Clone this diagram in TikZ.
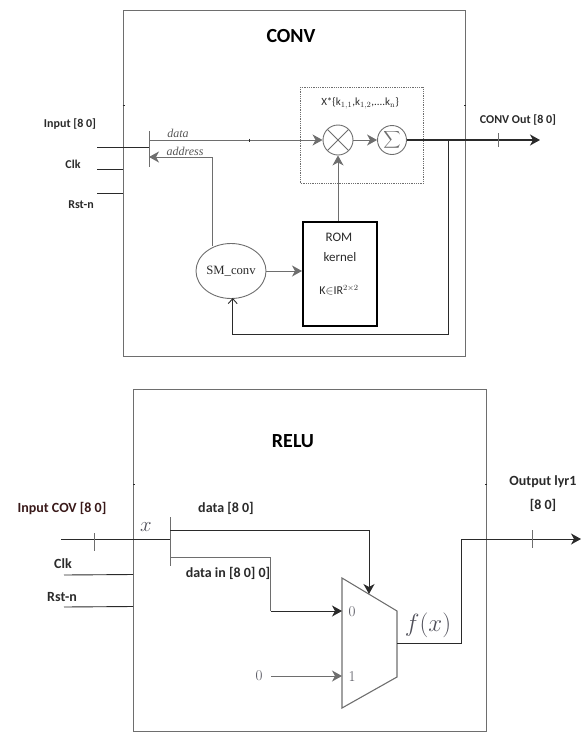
\documentclass[tikz,border=0pt]{standalone}
\usepackage{fontspec}
\usepackage{amsmath}
\usetikzlibrary{arrows.meta,shapes.geometric}
\newfontfamily\carl{Carlito}
\newfontfamily\libser{Liberation Serif}
\definecolor{gl}{HTML}{6E6E6E}
\definecolor{dk}{HTML}{2A2A2A}
\definecolor{mar}{HTML}{3A1A1A}
\definecolor{md}{HTML}{50505A}
\tikzset{
  box/.style={draw=gl,line width=1pt,inner sep=0},
  wire/.style={draw=gl,line width=1pt},
  dwire/.style={draw=dk,line width=.9pt},
  arr/.style={-{Stealth[length=10pt,width=11pt,inset=3pt]}},
  lab/.style={inner sep=0,font=\carl\bfseries\fontsize{12}{14}\selectfont,text=dk},
  labb/.style={inner sep=0,font=\carl\bfseries\fontsize{14}{16}\selectfont,text=dk},
  tit/.style={inner sep=0,font=\carl\bfseries\fontsize{20}{22}\selectfont,text=black},
  it/.style={inner sep=0,font=\libser\itshape\fontsize{12}{14}\selectfont,text=gl!80!black},
  rt/.style={inner sep=0,font=\carl\fontsize{13}{15}\selectfont,text=dk},
  mk/.style={inner sep=0,text=md}
}
\begin{document}
\begin{tikzpicture}[x=1pt,y=-1pt]
\useasboundingbox (0,0) rectangle (581,732);
% ---------- CONV ----------
\node[box,minimum width=342pt,minimum height=346pt] (convbox) at (294,183) {};
\node[tit] (convt) at (291,36) {CONV};
\node[lab] (l1) at (70,124) {Input [8 0]};
\node[lab] (l2) at (73,164) {Clk};
\node[lab] (l3) at (81,205) {Rst-n};
\node[lab] (l4) at (518,120) {CONV Out [8 0]};
\node[it] (l5) at (178,133) {data};
\node[it] (l6) at (185,151) {address};
\coordinate (in1) at (97,147); \coordinate (bar1a) at (149,131); \coordinate (bar1b) at (149,167);
\coordinate (bar1i) at (149,147); \coordinate (d1) at (149,140); \coordinate (a1) at (149,157);
\coordinate (clk1) at (97,169.5); \coordinate (clk1e) at (123,169.5);
\coordinate (rst1) at (97,193); \coordinate (rst1e) at (123,193);
\draw[dwire] (in1) -- (bar1i);
\draw[dwire] (clk1) -- (clk1e);
\draw[dwire] (rst1) -- (rst1e);
\draw[wire] (bar1a) -- (bar1b);
\node[draw=gl,densely dotted,line width=.8pt,minimum width=123pt,minimum height=96pt,inner sep=0] (dots) at (362.3,135) {};
\node[draw=gl,line width=.9pt,circle,minimum size=30pt,inner sep=0,path picture={
  \draw[gl,line width=.8pt] (path picture bounding box.north west)--(path picture bounding box.south east);
  \draw[gl,line width=.8pt] (path picture bounding box.north east)--(path picture bounding box.south west);}] (mul) at (338,140) {};
\node[draw=gl,line width=.9pt,circle,minimum size=29pt,inner sep=0,text=gl,font=\fontsize{12}{14}\selectfont] (sum) at (392,140) {$\displaystyle\sum$};
\node[inner sep=0,font=\carl\fontsize{11}{13}\selectfont,text=dk] (xk) at (360,103) {X*\{k$_{1,1}$,k$_{1,2}$,....k$_{\mathrm n}$\}};
\node[draw=black,line width=2pt,minimum width=74pt,minimum height=104pt,inner sep=0] (rom) at (340,274) {};
\node[rt] (rom1) at (339,237) {ROM};
\node[rt] (rom2) at (340,257) {kernel};
\node[inner sep=0,font=\carl\fontsize{12}{14}\selectfont,text=dk] (rom3) at (339,290) {K$\in$IR$^{2\times2}$};
\node[draw=gl,line width=.9pt,ellipse,minimum width=70pt,minimum height=55pt,inner sep=0,text=dk,font=\libser\fontsize{12.7}{15}\selectfont] (sm) at (231,271) {SM\_conv};
\coordinate (out1) at (540,140);
\coordinate (fb1) at (448,140); \coordinate (fb2) at (448,334); \coordinate (fb3) at (232.7,334);
\coordinate (ad0) at (212,246);
\draw[wire,arr] (d1) -- (mul.west);
\draw[wire,arr] (mul.east) -- (sum.west);
\draw[dwire,arr,line width=1.2pt] (sum.east) -- (out1);
\draw[wire,arr] (rom.north -| mul) -- (mul.south);
\draw[wire,arr] (sm.east) -- (sm.east -| rom.west);
\draw[wire,arr] (ad0) |- (a1);
\draw[dwire,-{Straight Barb[length=5pt,width=9pt]}] (fb1) -- (fb2) -- (fb3) -- (232.7,298);
\coordinate (t1a) at (498,133); \coordinate (t1b) at (498,147);
\draw[gl,line width=.8pt] (t1a) -- (t1b);
\coordinate (s1a) at (249,138.5); \coordinate (s1b) at (249,141.5);
\draw[dk,line width=1pt] (s1a) -- (s1b);
\coordinate (s2a) at (122.7,105.5); \coordinate (s2b) at (125,105.5);
\draw[dk,line width=1pt] (s2a) -- (s2b);
\coordinate (s3a) at (464,105) ; \coordinate (s3b) at (466,105);
\draw[dk,line width=1pt] (s3a) -- (s3b);
% ---------- RELU ----------
\node[box,minimum width=353pt,minimum height=342pt] (relubox) at (309.5,560) {};
\node[tit] (relut) at (293,441) {RELU};
\node[labb,text=mar] (r1) at (62,508) {Input COV [8 0]};
\node[labb] (r2) at (63,564) {Clk};
\node[labb] (r3) at (62,597) {Rst-n};
\node[labb] (r4) at (226,508) {data [8 0]};
\node[labb] (r5) at (228,573) {data in [8 0] 0]};
\node[labb] (r6) at (543,482) {Output lyr1};
\node[labb] (r7) at (543,505) {[8 0]};
\node[mk,font=\fontsize{22}{24}\selectfont] (xl) at (146,527) {$x$};
\node[mk,font=\fontsize{27}{29}\selectfont] (fx) at (428,625) {$f(x)$};
\node[mk,font=\fontsize{15}{17}\selectfont] (zero) at (259,676) {0};
\node[mk,font=\fontsize{15}{17}\selectfont] (m0) at (352,611.5) {0};
\node[mk,font=\fontsize{15}{17}\selectfont] (m1) at (352,677) {1};
\coordinate (q1) at (342,578); \coordinate (q2) at (397,611); \coordinate (q3) at (397,677); \coordinate (q4) at (342,708);
\draw[gl,line width=1.1pt] (q1) -- (q2) -- (q3) -- (q4) -- cycle;
\coordinate (in2) at (61,539); \coordinate (bar2i) at (170,539);
\coordinate (bar2a) at (170,517); \coordinate (bar2b) at (170,566);
\coordinate (d2) at (170,530); \coordinate (d2c) at (369,530); \coordinate (d2e) at (369,594);
\coordinate (e2) at (170,557); \coordinate (e2c) at (270.5,557); \coordinate (e2d) at (270.5,611); \coordinate (e2e) at (342,611);
\coordinate (z2) at (271,676); \coordinate (z2e) at (342,676);
\coordinate (o0) at (397,643); \coordinate (o1) at (461,643); \coordinate (o2) at (461,539); \coordinate (o3) at (581,539);
\coordinate (clk2) at (64,575); \coordinate (clk2e) at (133,574.5);
\coordinate (rst2) at (64,607); \coordinate (rst2e) at (133,606.5);
\draw[wire] (bar2a) -- (bar2b);
\draw[dwire] (in2) -- (bar2i);
\draw[dwire] (clk2) -- (clk2e);
\draw[dwire] (rst2) -- (rst2e);
\draw[dwire,arr] (d2) -- (d2c) -- (d2e);
\draw[wire] (e2) -- (e2c);
\draw[wire] (e2c) -- (e2d);
\draw[dwire,arr] (e2d) -- (e2e);
\draw[wire,arr] (z2) -- (z2e);
\draw[dwire,arr] (o0) -- (o1) -- (o2) -- (o3);
\coordinate (t2a) at (94,533); \coordinate (t2b) at (94,551);
\draw[gl,line width=.8pt] (t2a) -- (t2b);
\coordinate (t3a) at (532,530); \coordinate (t3b) at (532,548);
\draw[gl,line width=.8pt] (t3a) -- (t3b);
\coordinate (s4a) at (133,484); \coordinate (s4b) at (135,484);
\draw[dk,line width=1pt] (s4a) -- (s4b);
\coordinate (s5a) at (485,484); \coordinate (s5b) at (487,484);
\draw[dk,line width=1pt] (s5a) -- (s5b);
\end{tikzpicture}
\end{document}
